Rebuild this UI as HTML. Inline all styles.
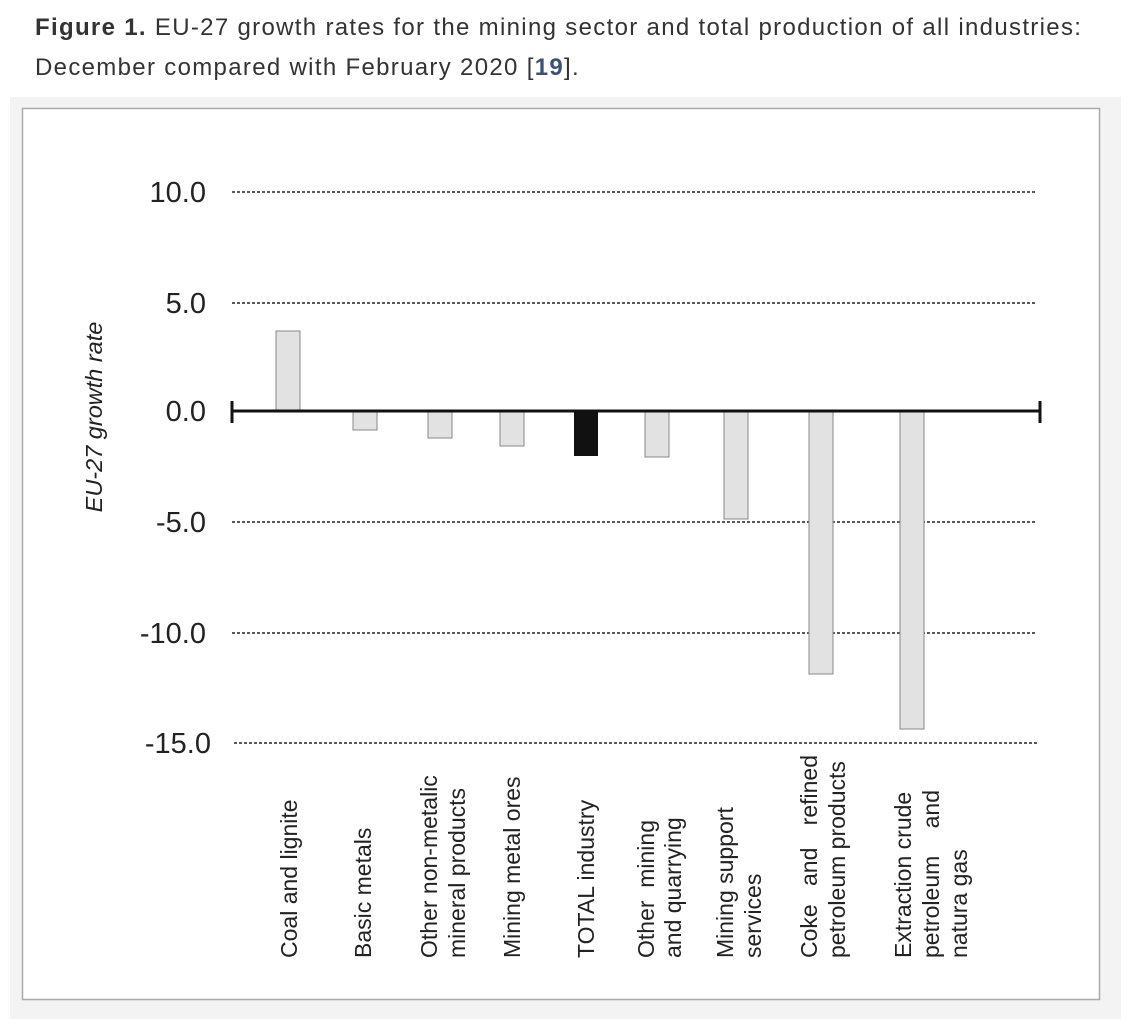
<!DOCTYPE html>
<html><head><meta charset="utf-8"><style>
body{margin:0;width:1131px;height:1019px;background:#fff;font-family:"Liberation Sans",Arial,sans-serif;overflow:hidden}
.cap{position:absolute;left:35px;top:8px;width:1090px;font-size:24px;letter-spacing:1.32px;line-height:40px;color:#333;white-space:nowrap}
.fig{position:absolute;left:10px;top:97px;width:1111px;height:922px;background:#f3f3f3}
svg{position:absolute;left:0;top:0}
</style></head><body>
<div class="cap"><b>Figure 1.</b> EU-27 growth rates for the mining sector and total production of all industries:<br>December compared with February 2020 [<b style="color:#3d4f7d">19</b>].</div>
<div class="fig"></div>
<svg width="1131" height="1019" font-family="Liberation Sans, Arial, sans-serif">
<rect x="22.5" y="108.5" width="1077" height="891" fill="#fff" stroke="#aaa" stroke-width="1.5"/>
<g stroke="#222" stroke-width="1.5" stroke-dasharray="3,2">
<line x1="232" y1="192" x2="1037" y2="192"/>
<line x1="232" y1="303" x2="1037" y2="303"/>
<line x1="232" y1="522" x2="1037" y2="522"/>
<line x1="232" y1="633" x2="1037" y2="633"/>
<line x1="234" y1="743" x2="1037" y2="743"/>
</g>
<g font-size="29" fill="#222" text-anchor="end">
<text x="206" y="202">10.0</text>
<text x="206" y="313">5.0</text>
<text x="206" y="421">0.0</text>
<text x="206" y="532">-5.0</text>
<text x="206" y="643">-10.0</text>
<text x="211" y="753">-15.0</text>
</g>
<text transform="translate(102,417) rotate(-90)" text-anchor="middle" font-size="23.5" font-style="italic" fill="#222">EU-27 growth rate</text>
<g fill="#e2e2e2" stroke="#888" stroke-width="1">
<rect x="276" y="331" width="24" height="80"/>
<rect x="353" y="411" width="24" height="19"/>
<rect x="428" y="411" width="24" height="27"/>
<rect x="500" y="411" width="24" height="35"/>
<rect x="645" y="411" width="24" height="46"/>
<rect x="724" y="411" width="24" height="108"/>
<rect x="809" y="411" width="24" height="263"/>
<rect x="900" y="411" width="24" height="318"/>
</g>
<rect x="574" y="411" width="24" height="45" fill="#111"/>
<line x1="232" y1="411" x2="1040" y2="411" stroke="#111" stroke-width="3"/>
<line x1="232" y1="401" x2="232" y2="423" stroke="#111" stroke-width="3"/>
<line x1="1040" y1="401" x2="1040" y2="423" stroke="#111" stroke-width="3"/>
<g font-size="23" fill="#222">
<text transform="translate(297,958) rotate(-90)">Coal and lignite</text>
<text transform="translate(371,958) rotate(-90)">Basic metals</text>
<text transform="translate(437,958) rotate(-90)">Other non-metalic</text>
<text transform="translate(465,958) rotate(-90)">mineral products</text>
<text transform="translate(520,958) rotate(-90)">Mining metal ores</text>
<text transform="translate(594,958) rotate(-90)">TOTAL industry</text>
<text transform="translate(654,958) rotate(-90)">Other</text>
<text transform="translate(654,958) rotate(-90)" x="138" text-anchor="end">mining</text>
<text transform="translate(681,958) rotate(-90)">and quarrying</text>
<text transform="translate(733,958) rotate(-90)">Mining support</text>
<text transform="translate(761,958) rotate(-90)">services</text>
<text transform="translate(817,958) rotate(-90)">Coke</text>
<text transform="translate(817,958) rotate(-90)" x="72">and</text>
<text transform="translate(817,958) rotate(-90)" x="203" text-anchor="end">refined</text>
<text transform="translate(845,958) rotate(-90)">petroleum products</text>
<text transform="translate(911,958) rotate(-90)">Extraction crude</text>
<text transform="translate(939,958) rotate(-90)">petroleum</text>
<text transform="translate(939,958) rotate(-90)" x="168" text-anchor="end">and</text>
<text transform="translate(967,958) rotate(-90)">natura gas</text>
</g>
</svg>
</body></html>
